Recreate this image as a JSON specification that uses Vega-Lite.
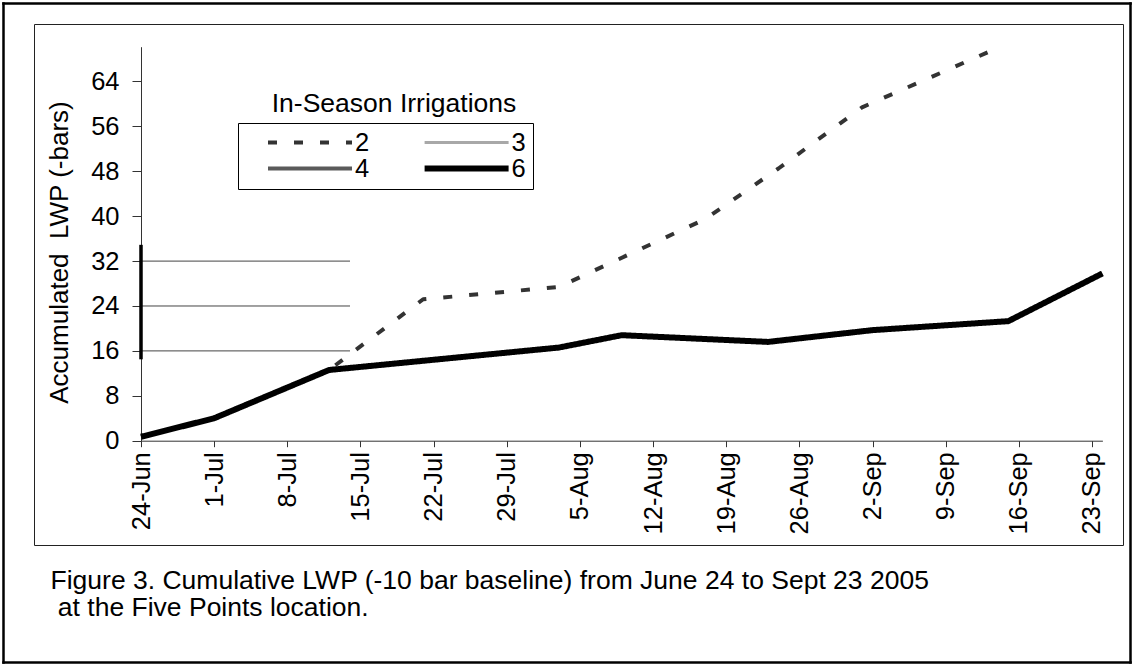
{
  "$schema": "https://vega.github.io/schema/vega-lite/v6.json",
  "width": 1089,
  "height": 521,
  "autosize": {"type": "none"},
  "padding": {"left": 34, "top": 24, "right": 9, "bottom": 119},
  "background": "white",
  "layer": [
    {
      "encoding": {
        "x": {
          "field": "date",
          "type": "temporal",
          "scale": {
            "type": "utc",
            "domain": [
              {"year": 2005, "month": 6, "date": 24, "utc": true},
              {"year": 2005, "month": 9, "date": 24, "utc": true}
            ],
            "range": [107, 1068.4]
          },
          "axis": {
            "orient": "bottom",
            "offset": -104.3,
            "values": [
              {"year": 2005, "month": 6, "date": 24, "utc": true},
              {"year": 2005, "month": 7, "date": 1, "utc": true},
              {"year": 2005, "month": 7, "date": 8, "utc": true},
              {"year": 2005, "month": 7, "date": 15, "utc": true},
              {"year": 2005, "month": 7, "date": 22, "utc": true},
              {"year": 2005, "month": 7, "date": 29, "utc": true},
              {"year": 2005, "month": 8, "date": 5, "utc": true},
              {"year": 2005, "month": 8, "date": 12, "utc": true},
              {"year": 2005, "month": 8, "date": 19, "utc": true},
              {"year": 2005, "month": 8, "date": 26, "utc": true},
              {"year": 2005, "month": 9, "date": 2, "utc": true},
              {"year": 2005, "month": 9, "date": 9, "utc": true},
              {"year": 2005, "month": 9, "date": 16, "utc": true},
              {"year": 2005, "month": 9, "date": 23, "utc": true}
            ],
            "labelExpr": "utcFormat(datum.value, '%-d-%b')",
            "labelAngle": 270,
            "labelAlign": "right",
            "labelBaseline": "middle",
            "labelDy": 4,
            "labelPadding": 5,
            "labelFlush": false,
            "labelOverlap": false,
            "tickSize": 6,
            "title": ["Figure 3. Cumulative LWP (-10 bar baseline) from June 24 to Sept 23 2005", "\u200b\u00a0at the Five Points location."],
            "titleX": 16,
            "titleY": 148,
            "titleAlign": "left",
            "titleAnchor": "start",
            "titleBaseline": "alphabetic",
            "titleAngle": 0,
            "titleFontSize": 26.5,
            "titleLineHeight": 27
          }
        },
        "y": {
          "field": "lwp",
          "type": "quantitative",
          "scale": {"domain": [0, 70.2], "range": [416.7, 22.7], "nice": false, "zero": false},
          "axis": {
            "orient": "left",
            "offset": -107,
            "values": [0, 8, 16, 24, 32, 40, 48, 56, 64],
            "tickSize": 9,
            "labelPadding": 13,
            "title": "Accumulated\u00a0 LWP (-bars)",
            "titleX": -73.5,
            "titleY": 228,
            "titleAngle": 270,
            "titleAlign": "center",
            "titleBaseline": "alphabetic",
            "titleFontSize": 26
          }
        }
      },
      "layer": [
        {
          "data": {
            "values": [
              {"series": "2", "date": "2005-06-24", "lwp": 0.7},
              {"series": "2", "date": "2005-07-01", "lwp": 4.0},
              {"series": "2", "date": "2005-07-12", "lwp": 12.6},
              {"series": "2", "date": "2005-07-21", "lwp": 25.2},
              {"series": "2", "date": "2005-08-03", "lwp": 27.4},
              {"series": "2", "date": "2005-08-17", "lwp": 39.5},
              {"series": "2", "date": "2005-08-24", "lwp": 48.5},
              {"series": "2", "date": "2005-09-01", "lwp": 59.4},
              {"series": "2", "date": "2005-09-14", "lwp": 70.0},
              {"series": "6", "date": "2005-06-24", "lwp": 0.7},
              {"series": "6", "date": "2005-07-01", "lwp": 4.0},
              {"series": "6", "date": "2005-07-12", "lwp": 12.6},
              {"series": "6", "date": "2005-08-03", "lwp": 16.6},
              {"series": "6", "date": "2005-08-09", "lwp": 18.8},
              {"series": "6", "date": "2005-08-23", "lwp": 17.6},
              {"series": "6", "date": "2005-09-02", "lwp": 19.7},
              {"series": "6", "date": "2005-09-15", "lwp": 21.3},
              {"series": "6", "date": "2005-09-24", "lwp": 29.8}
            ]
          },
          "mark": {"type": "line", "strokeCap": "butt", "strokeJoin": "round"},
          "encoding": {
            "color": {
              "field": "series",
              "type": "nominal",
              "scale": {"domain": ["2", "3", "4", "6"], "range": ["#333333", "#a8a8a8", "#5a5a5a", "#000000"]},
              "legend": {"orient": "none", "legendX": 204, "legendY": 99, "title": null, "columns": 2, "direction": "horizontal", "labelExpr": "datum.label + '\u00a0\u00a0'"}
            },
            "strokeDash": {
              "field": "series",
              "type": "nominal",
              "scale": {"domain": ["2", "3", "4", "6"], "range": [[9, 17], [1, 0], [1, 0], [1, 0]]},
              "legend": {"orient": "none", "legendX": 204, "legendY": 99, "title": null, "columns": 2, "direction": "horizontal", "labelExpr": "datum.label + '\u00a0\u00a0'"}
            },
            "strokeWidth": {
              "field": "series",
              "type": "nominal",
              "scale": {"type": "ordinal", "domain": ["2", "3", "4", "6"], "range": [4, 3, 4, 6]},
              "legend": {"orient": "none", "legendX": 204, "legendY": 99, "title": null, "columns": 2, "direction": "horizontal", "labelExpr": "datum.label + '\u00a0\u00a0'"}
            }
          }
        },
        {
          "data": {
            "values": [
              {"date": "2005-06-24", "end": "2005-07-14", "lwp": 16},
              {"date": "2005-06-24", "end": "2005-07-14", "lwp": 24},
              {"date": "2005-06-24", "end": "2005-07-14", "lwp": 32}
            ]
          },
          "mark": {"type": "rule", "color": "#444444", "strokeWidth": 1},
          "encoding": {"x2": {"field": "end"}}
        },
        {
          "data": {"values": [{"date": "2005-06-24", "lwp": 14.5, "top": 34.9}]},
          "mark": {"type": "rule", "color": "#000000", "strokeWidth": 3.5},
          "encoding": {"y2": {"field": "top"}}
        }
      ]
    },
    {
      "data": {"values": [{"f": 0}, {"f": 1}]},
      "mark": {"type": "point", "opacity": 0},
      "encoding": {
        "x": {
          "field": "f", "type": "quantitative",
          "scale": {"domain": [0, 1], "range": [-31, 1096], "nice": false, "zero": false},
          "axis": {
            "orient": "top", "offset": 21, "ticks": false, "labels": false,
            "domainColor": "#000000", "domainWidth": 2.5, "domainCap": "square",
            "title": "In-Season Irrigations",
            "titleX": 359.5,
            "titleY": 108.7,
            "titleAlign": "center",
            "titleAnchor": "start",
            "titleBaseline": "alphabetic",
            "titleAngle": 0,
            "titleFontSize": 26.5
          }
        },
        "y": {
          "field": "f", "type": "quantitative",
          "scale": {"domain": [0, 1], "range": [638, -21], "nice": false, "zero": false},
          "axis": {"orient": "right", "offset": 7, "ticks": false, "labels": false, "title": null, "domainColor": "#000000", "domainWidth": 2.5, "domainCap": "square"}
        }
      }
    },
    {
      "data": {"values": [{"f": 0}, {"f": 1}]},
      "mark": {"type": "point", "opacity": 0},
      "encoding": {
        "x": {
          "field": "f", "type": "quantitative",
          "scale": {"domain": [0, 1], "range": [-31, 1096], "nice": false, "zero": false},
          "axis": {"orient": "bottom", "offset": 117, "ticks": false, "labels": false, "title": null, "domainColor": "#000000", "domainWidth": 2.5, "domainCap": "square"}
        },
        "y": {
          "field": "f", "type": "quantitative",
          "scale": {"domain": [0, 1], "range": [638, -21], "nice": false, "zero": false},
          "axis": {"orient": "left", "offset": 31, "ticks": false, "labels": false, "title": null, "domainColor": "#000000", "domainWidth": 2.5, "domainCap": "square"}
        }
      }
    }
  ],
  "resolve": {
    "scale": {"x": "independent", "y": "independent"},
    "axis": {"x": "independent", "y": "independent"}
  },
  "config": {
    "font": "Liberation Sans",
    "view": {"stroke": "#222222", "strokeWidth": 1},
    "axis": {
      "labelFont": "Liberation Sans",
      "labelFontSize": 25.5,
      "labelColor": "#000000",
      "titleFont": "Liberation Sans",
      "titleFontWeight": "normal",
      "titleColor": "#000000",
      "domainColor": "#333333",
      "tickColor": "#333333",
      "grid": false
    },
    "legend": {
      "symbolType": "stroke",
      "symbolSize": 7056,
      "clipHeight": 25,
      "labelFont": "Liberation Sans",
      "labelFontSize": 25.5,
      "labelColor": "#000000",
      "labelOffset": 0,
      "symbolOffset": 20,
      "padding": 7,
      "strokeColor": "#000000",
      "columnPadding": 31.6,
      "rowPadding": 0
    }
  }
}
